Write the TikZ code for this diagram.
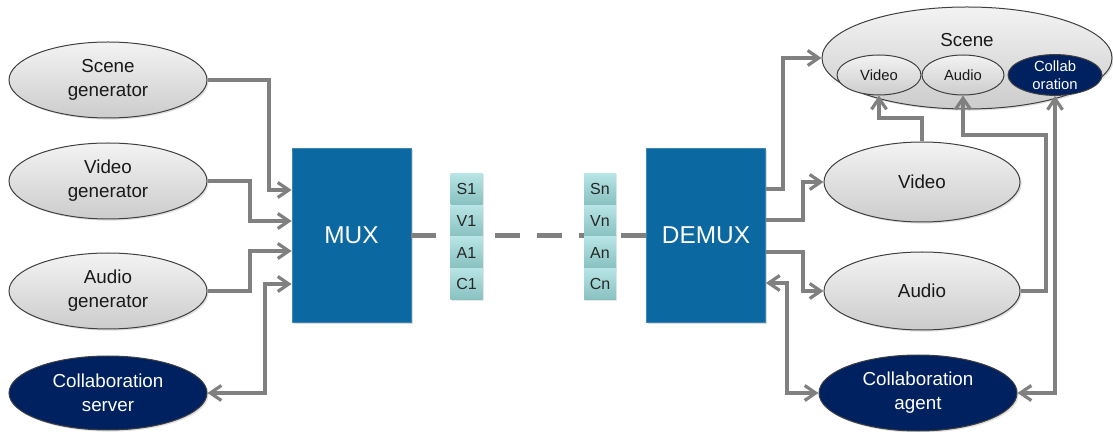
\documentclass[tikz,border=0pt]{standalone}
\usepackage{fontspec}
\setmainfont{Liberation Sans}
\usetikzlibrary{shapes.geometric,arrows.meta,shadows}
\definecolor{muxblue}{RGB}{12,104,160}
\definecolor{navy}{RGB}{0,33,96}
\definecolor{linegray}{RGB}{128,128,128}
\definecolor{ellhi}{RGB}{243,243,243}
\definecolor{elllo}{RGB}{204,204,204}
\definecolor{celltop}{RGB}{184,229,229}
\definecolor{cellbot}{RGB}{136,192,192}
\begin{document}
\begin{tikzpicture}[x=0.5pt,y=-0.5pt]
    \tikzstyle{every node}+=[inner sep=0pt]
    \tikzstyle{genell}=[ellipse,draw=black!75,line width=0.5pt,top color=ellhi,bottom color=elllo,text=black!90,align=center,font=\fontsize{9.4}{12}\selectfont,drop shadow={opacity=0.25,shadow xshift=0.8pt,shadow yshift=-0.8pt}]
    \tikzstyle{navyell}=[ellipse,draw=black!75,line width=0.5pt,fill=navy,text=white,align=center,font=\fontsize{9.4}{12}\selectfont,drop shadow={opacity=0.25,shadow xshift=0.8pt,shadow yshift=-0.8pt}]
    \tikzstyle{subell}=[ellipse,draw=black!75,line width=0.5pt,minimum width=42pt,minimum height=20pt,align=center,font=\fontsize{7.4}{9}\selectfont]
    \tikzstyle{muxbox}=[rectangle,fill=muxblue,draw=muxblue!80!white,line width=0.4pt,minimum width=59.5pt,minimum height=87pt,text=white,font=\fontsize{12.2}{14}\selectfont,drop shadow={opacity=0.3,shadow xshift=0.8pt,shadow yshift=-0.8pt}]
    \tikzstyle{cell}=[rectangle,top color=celltop,bottom color=cellbot,minimum width=16pt,minimum height=15.9pt,text=black!85,font=\fontsize{8}{9}\selectfont,drop shadow={opacity=0.2,shadow xshift=0.6pt,shadow yshift=-0.6pt}]
    \tikzstyle{arr}=[draw=linegray,line width=1.6pt,-{Straight Barb[length=5.5pt,width=7.5pt]}]
    \tikzstyle{arrb}=[draw=linegray,line width=1.6pt,{Straight Barb[length=5.5pt,width=7.5pt]}-{Straight Barb[length=5.5pt,width=7.5pt]}]
    \tikzstyle{link}=[draw=linegray,line width=2.5pt,dash pattern=on 12.5pt off 8.5pt]
    \useasboundingbox (0,0) rectangle (1113,432);
    % sources
    \node[genell,minimum width=99pt,minimum height=38pt] (scenegen) at (108,80) {Scene\\generator};
    \node[genell,minimum width=99pt,minimum height=38pt] (videogen) at (108,181) {Video\\generator};
    \node[genell,minimum width=99pt,minimum height=38pt] (audiogen) at (108,291) {Audio\\generator};
    \node[navyell,minimum width=99pt,minimum height=37pt] (collabserver) at (108,393) {Collaboration\\server};
    % mux and demux
    \node[muxbox] (mux) at (351.5,235) {MUX};
    \node[muxbox] (demux) at (706,235.5) {DEMUX};
    \draw[link] (mux.east |- 0,236) -- (demux.west |- 0,236);
    % packets
    \node[cell] (s1) at (466.5,189) {S1};
    \node[cell] (v1) at (466.5,221) {V1};
    \node[cell] (a1) at (466.5,252.5) {A1};
    \node[cell] (c1) at (466.5,284) {C1};
    \node[cell] (sn) at (600,189) {Sn};
    \node[cell] (vn) at (600,221) {Vn};
    \node[cell] (an) at (600,252.5) {An};
    \node[cell] (cn) at (600,284) {Cn};
    % sinks
    \node[genell,minimum width=145pt,minimum height=51pt] (scene) at (967,58) {};
    \node[font=\fontsize{9.4}{12}\selectfont,text=black!90] (scenelbl) at (967,40) {Scene};
    \node[subell,top color=ellhi,bottom color=elllo,text=black!90] (sv) at (879,75) {Video};
    \node[subell,top color=ellhi,bottom color=elllo,text=black!90,minimum width=41pt] (sa) at (963,75) {Audio};
    \node[subell,fill=navy,text=white,minimum width=47pt] (sc) at (1055,75) {Collab\\oration};
    \node[genell,minimum width=98pt,minimum height=40pt] (video) at (922,182) {Video};
    \node[genell,minimum width=98pt,minimum height=39pt] (audio) at (922,291) {Audio};
    \node[navyell,minimum width=99pt,minimum height=38pt] (agent) at (918,393) {Collaboration\\agent};
    % mux side
    \draw[arr] (scenegen.east) -| (269,190) -- (mux.west |- 0,190);
    \draw[arr] (videogen.east) -| (250,221) -- (mux.west |- 0,221);
    \draw[arr] (audiogen.east) -| (250,251) -- (mux.west |- 0,251);
    \draw[arrb] (mux.west |- 0,284) -| (265,393) -- (collabserver.east);
    % demux side
    \draw[arr] (demux.east |- 0,189) -| (783,58) -- (scene.west);
    \draw[arr] (demux.east |- 0,220) -| (803,182) -- (video.west);
    \draw[arr] (demux.east |- 0,252) -| (803,291) -- (audio.west);
    \draw[arrb] (demux.east |- 0,283) -| (787,393) -- (agent.west);
    \draw[arr] (video.north) |- (879,118) -- (sv.south);
    \draw[arr] (audio.east) -| (1046,135) -| (sa.south);
    \draw[arrb] (sc.south) |- (agent.east);
\end{tikzpicture}
\end{document}
